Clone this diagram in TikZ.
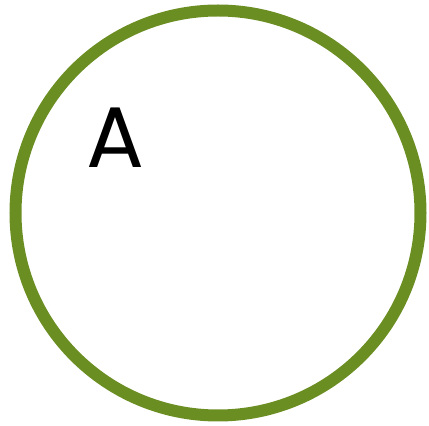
\documentclass[tikz,border=0pt]{standalone}
\usepackage{fontspec}
\setmainfont{Poppins}
\definecolor{ringgreen}{RGB}{107,142,35}
\begin{document}
\begin{tikzpicture}[x=1pt,y=1pt,
  ring/.style={draw=ringgreen,line width=12pt},
  lbl/.style={inner sep=0pt,font=\fontsize{86}{86}\selectfont}]
\useasboundingbox (0,0) rectangle (429,426);
\node[ring,circle,minimum size=405pt,inner sep=0pt] (c) at (218,213) {};
\node[lbl] (a) at (115,288.5) {A};
\end{tikzpicture}
\end{document}
